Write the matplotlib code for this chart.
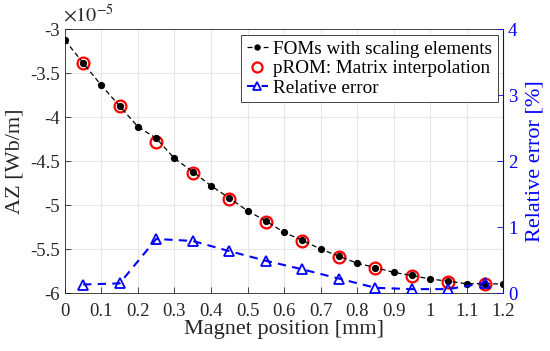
import matplotlib
matplotlib.use("Agg")
import matplotlib.pyplot as plt

plt.rcParams['font.family'] = ['Liberation Serif', 'DejaVu Serif']
plt.rcParams['axes.unicode_minus'] = False
plt.rcParams['mathtext.fontset'] = 'stix'

# Data (AZ in units of 1e-5 Wb/m)
fom_x = [0, 0.05, 0.1, 0.15, 0.2, 0.25, 0.3, 0.35, 0.4, 0.45, 0.5, 0.55, 0.6,
         0.65, 0.7, 0.75, 0.8, 0.85, 0.9, 0.95, 1.0, 1.05, 1.1, 1.15, 1.2]
fom_az = [-3.125, -3.386, -3.64, -3.875, -4.11, -4.24, -4.47, -4.62, -4.78, -4.92,
          -5.065, -5.18, -5.31, -5.40, -5.50, -5.58, -5.66, -5.71, -5.765, -5.80,
          -5.84, -5.865, -5.894, -5.892, -5.898]
prom_x = [0.05, 0.15, 0.25, 0.35, 0.45, 0.55, 0.65, 0.75, 0.85, 0.95, 1.05, 1.15]
prom_az = [-3.39, -3.875, -4.28, -4.63, -4.93, -5.19, -5.405, -5.585, -5.71,
           -5.807, -5.87, -5.894]
err_x = prom_x
err_pct = [0.13, 0.147, 0.82, 0.79, 0.636, 0.49, 0.36, 0.22, 0.08, 0.06, 0.06, 0.156]

x_ticks = [0, 0.1, 0.2, 0.3, 0.4, 0.5, 0.6, 0.7, 0.8, 0.9, 1.0, 1.1, 1.2]
x_ticklabels = ['0', '0.1', '0.2', '0.3', '0.4', '0.5', '0.6', '0.7', '0.8',
                '0.9', '1', '1.1', '1.2']
y_ticks = [-6, -5.5, -5, -4.5, -4, -3.5, -3]
y2_ticks = [0, 1, 2, 3, 4]

fig = plt.figure(figsize=(5.5, 3.51), dpi=100)
ax = fig.add_axes([0.118, 0.165, 0.797, 0.752])
ax2 = ax.twinx()

h1, = ax.plot(fom_x, fom_az, color='black', linestyle='--', linewidth=0.9,
              marker='o', markersize=4.2, dashes=(4, 2.5),
              label='FOMs with scaling elements', zorder=3)
h2, = ax.plot(prom_x, prom_az, linestyle='none', marker='o', markersize=8.5,
              markerfacecolor='none', markeredgecolor='red', markeredgewidth=1.6,
              label='pROM: Matrix interpolation', zorder=2)
h3, = ax2.plot(err_x, err_pct, color='blue', linestyle='--', linewidth=1.5,
               dashes=(4, 3), marker='^', markersize=6.5, markerfacecolor='none',
               markeredgecolor='blue', markeredgewidth=1.3, label='Relative error')

ax.set_xlim(0, 1.2)
ax.set_ylim(-6, -3)
ax2.set_ylim(0, 4)
ax.set_xticks(x_ticks)
ax.set_xticklabels(x_ticklabels)
ax.set_yticks(y_ticks)
ax.set_yticklabels(['%g' % v for v in y_ticks])
ax2.set_yticks(y2_ticks)

ax.grid(True, color='#e6e6e6', linewidth=0.8)
ax.set_axisbelow(True)

fs = 13.5
lfs = 16
ax.tick_params(axis='both', direction='in', labelsize=fs, colors='#262626',
               length=4, width=0.6)
ax.tick_params(axis='x', pad=7)
ax2.tick_params(axis='y', direction='in', labelsize=fs, colors='blue',
                length=4, width=0.6)
for s in ['left', 'bottom', 'top']:
    ax.spines[s].set_color('#262626')
    ax.spines[s].set_linewidth(0.6)
ax2.spines['right'].set_color('blue')
ax2.spines['right'].set_linewidth(0.6)
for s in ['left', 'bottom', 'top']:
    ax2.spines[s].set_visible(False)

ax.set_xlabel('Magnet position [mm]', fontsize=lfs, color='#262626', labelpad=0)
ax.set_ylabel('AZ [Wb/m]', fontsize=lfs, color='#262626', labelpad=4)
ax2.set_ylabel('Relative error [%]', fontsize=lfs, color='blue', labelpad=6)

ax.text(-0.005, 1.01, r'$\times 10^{-5}$', transform=ax.transAxes, fontsize=14.5,
        color='#262626', ha='left', va='bottom')

leg = ax2.legend(handles=[h1, h2, h3], loc='upper right', fontsize=13.8,
                 handlelength=1.1, handletextpad=0.25, borderpad=0.3,
                 labelspacing=0.1, fancybox=False, framealpha=1,
                 edgecolor='#262626', borderaxespad=0.3, markerscale=0.85)
leg.get_frame().set_linewidth(0.6)

fig.savefig('out.png', dpi=100)
